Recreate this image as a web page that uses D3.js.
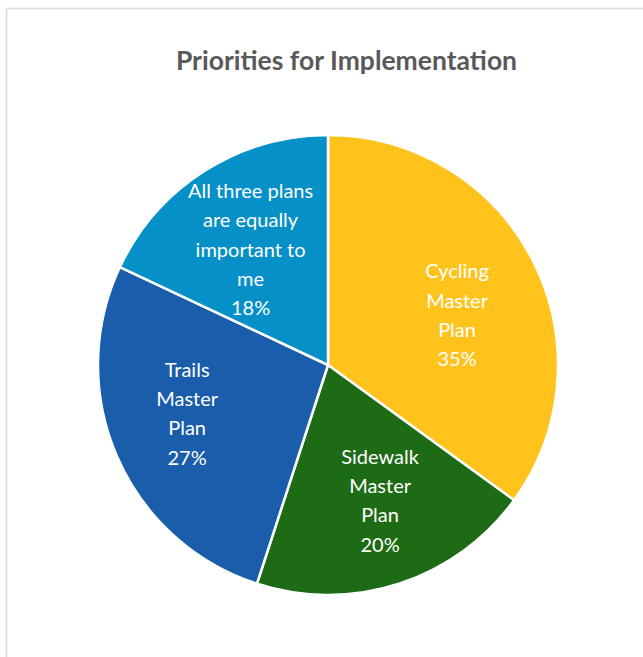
<!DOCTYPE html>
<html>
<head>
<meta charset="utf-8">
<script src="https://cdn.jsdelivr.net/npm/d3@7"></script>
<style>
  html, body { margin: 0; padding: 0; background: #fff; }
  svg { display: block; }
</style>
</head>
<body>
<script>
const categories = ["Cycling Master Plan", "Sidewalk Master Plan", "Trails Master Plan", "All three plans are equally important to me"];
const values = [35, 20, 27, 18];
const labelLines = [
  ["Cycling", "Master", "Plan"],
  ["Sidewalk", "Master", "Plan"],
  ["Trails", "Master", "Plan"],
  ["All three plans", "are equally", "important to", "me"]
];
const colors = ["#FFC31C", "#1E6B15", "#1A5DAB", "#0591C7"];
const title = "Priorities for Implementation";

const W = 643, H = 657;
const cx = 328, cy = 365, R = 230;
const labelNudge = [[2, 15], [8, 0], [-10, -8], [-1, 5]];
const lineH = 29.3;

const svg = d3.select("body").append("svg").attr("width", W).attr("height", H);

// chart frame
svg.append("rect").attr("x", 6.5).attr("y", 8.5).attr("width", W + 20).attr("height", H + 20)
  .attr("fill", "#fff").attr("stroke", "#d9d9d9").attr("stroke-width", 1.5);

svg.append("text").attr("x", 346.5).attr("y", 70).attr("text-anchor", "middle")
  .attr("font-family", "Lato, 'Open Sans', sans-serif").attr("font-weight", "bold")
  .attr("font-size", 26.5).attr("fill", "#595959").text(title);

const data = categories.map((c, i) => ({ c, v: values[i], i }));
const pie = d3.pie().value(d => d.v).sort(null);
const arcs = pie(data);
const arc = d3.arc().innerRadius(0).outerRadius(R);
const labelArc = d3.arc().innerRadius(R * 0.62).outerRadius(R * 0.62);

const g = svg.append("g").attr("transform", `translate(${cx},${cy})`);
g.selectAll("path").data(arcs).join("path")
  .attr("d", arc).attr("fill", d => colors[d.data.i])
  .attr("stroke", "#fff").attr("stroke-width", 2.5).attr("stroke-linejoin", "round");

arcs.forEach(a => {
  const [x0, y0] = labelArc.centroid(a);
  const i = a.data.i;
  const lines = labelLines[i].concat([d3.format(".0%")(a.data.v / 100)]);
  const x = x0 + labelNudge[i][0], y = y0 + labelNudge[i][1];
  const top = y - (lines.length - 1) * lineH / 2;
  const t = g.append("text").attr("text-anchor", "middle")
    .attr("font-family", "Lato, 'Open Sans', sans-serif").attr("font-size", 20)
    .attr("fill", "#fff");
  lines.forEach((l, k) => {
    t.append("tspan").attr("x", x).attr("y", top + k * lineH).attr("dy", "0.35em").text(l);
  });
});
</script>
</body>
</html>
